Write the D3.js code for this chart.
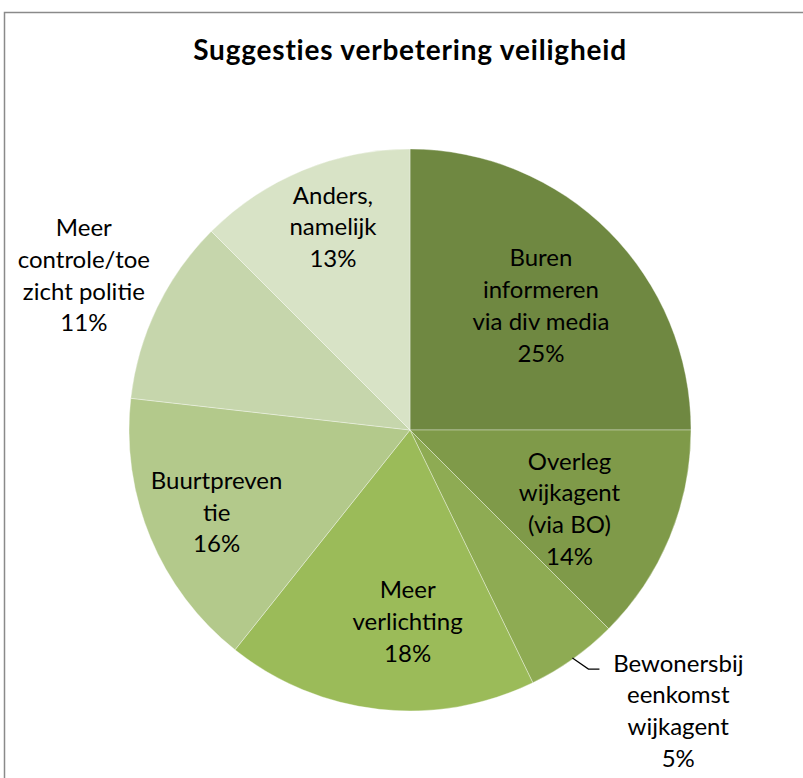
<!DOCTYPE html>
<html>
<head>
<meta charset="utf-8">
<script src="https://cdn.jsdelivr.net/npm/d3@7"></script>
<style>
  body { margin: 0; background: #fff; }
  text { font-family: Lato, "Open Sans", sans-serif; fill: #000; }
</style>
</head>
<body>
<div id="chart"></div>
<script>
// data (slice sizes from the drawn angles, labels as printed)
var categories = [
	["Buren", "informeren", "via div media"],
	["Overleg", "wijkagent", "(via BO)"],
	["Bewonersbij", "eenkomst", "wijkagent"],
	["Meer", "verlichting"],
	["Buurtpreven", "tie"],
	["Meer", "controle/toe", "zicht politie"],
	["Anders,", "namelijk"]
];
var values = [25, 12.5, 5.3, 17.9, 16.1, 10.7, 12.5];
var pctLabels = ["25%", "14%", "5%", "18%", "16%", "11%", "13%"];
var colors = ["#6f8841", "#7f9a49", "#8eab53", "#9bbb59", "#b3c98b", "#c6d6ac", "#d8e3c6"];

var width = 803, height = 778;
var cx = 410, cy = 430, radius = 281;

var svg = d3.select("#chart").append("svg")
	.attr("width", width)
	.attr("height", height);

// chart frame, runs off the right and bottom
svg.append("rect")
	.attr("x", 4.5).attr("y", 12.5)
	.attr("width", 820).attr("height", 800)
	.style("fill", "none")
	.style("stroke", "#8a8a8a")
	.style("stroke-width", 1.5);

svg.append("text")
	.attr("x", 410).attr("y", 53)
	.attr("text-anchor", "middle")
	.attr("dominant-baseline", "middle")
	.style("font-size", "28px")
	.style("font-weight", "bold")
	.style("letter-spacing", "0.8px")
	.text("Suggesties verbetering veiligheid");

var pie = d3.pie().sort(null).value(function(d) {return d;});
var arcs = pie(values);
var arc = d3.arc().innerRadius(0).outerRadius(radius);

var g = svg.append("g").attr("transform", "translate(" + cx + "," + cy + ")");

g.selectAll("path.slice")
	.data(arcs).enter()
	.append("path")
	.attr("class", "slice")
	.attr("d", arc)
	.style("fill", function(d, i) {return colors[i];})
	.style("stroke", "#ffffff")
	.style("stroke-opacity", 0.35)
	.style("stroke-width", 1);

// label placement: radius and angle nudge (degrees) per slice
var labelR = [179, 179, 390, 194, 211, 360, 215];
var labelShift = [2, 4.5, -8, -5.6, -1.1, -0.7, 1.5];
var lineH = 31.7;

var labels = g.selectAll("g.lbl")
	.data(arcs).enter()
	.append("g")
	.attr("class", "lbl")
	.attr("transform", function(d, i) {
		var a = (d.startAngle + d.endAngle) / 2 + labelShift[i] * Math.PI / 180;
		return "translate(" + (labelR[i] * Math.sin(a)) + "," + (-labelR[i] * Math.cos(a)) + ")";
	});

labels.each(function(d, i) {
	var lines = categories[i].concat([pctLabels[i]]);
	var top = -(lines.length - 1) * lineH / 2;
	d3.select(this).selectAll("text")
		.data(lines).enter()
		.append("text")
		.attr("x", 0)
		.attr("y", function(t, j) {return top + j * lineH;})
		.attr("text-anchor", "middle")
		.attr("dominant-baseline", "middle")
		.style("font-size", "24px")
		.text(function(t) {return t;});
});

// leader line for the small slice
var small = arcs[2];
var sa = (small.startAngle + small.endAngle) / 2;
var p0 = [280 * Math.sin(sa), -280 * Math.cos(sa)];
g.append("polyline")
	.attr("points", [p0, [p0[0] + 16, p0[1] + 11], [p0[0] + 27, p0[1] + 11]].map(function(p) {return p.join(",");}).join(" "))
	.style("fill", "none")
	.style("stroke", "#000")
	.style("stroke-width", 1.2);
</script>
</body>
</html>
